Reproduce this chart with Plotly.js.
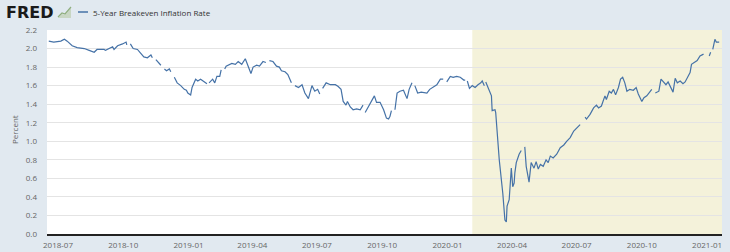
<!DOCTYPE html>
<html>
<head>
<meta charset="utf-8">
<script src="https://cdn.plot.ly/plotly-3.0.1.min.js"></script>
<style>html,body{margin:0;padding:0;background:#e1e9f0;}#chart{width:730px;height:252px;}</style>
</head>
<body>
<div id="chart"></div>
<script>
var seriesName = '5-Year Breakeven Inflation Rate';
var yAxisLabel = 'Percent';
var recessionStart = '2020-02-05';
var recessionEnd = '2021-01-22';
var xRange = ['2018-06-15 12:00', '2021-01-22'];
var yTicks = [0, 0.2, 0.4, 0.6, 0.8, 1.0, 1.2, 1.4, 1.6, 1.8, 2.0, 2.2];
var yTickLabels = ['0.0','0.2','0.4','0.6','0.8','1.0','1.2','1.4','1.6','1.8','2.0','2.2'];

var dates = [
'2018-06-18','2018-06-25','2018-07-05','2018-07-10','2018-07-14','2018-07-21','2018-07-28','2018-08-07','2018-08-14','2018-08-21',
'2018-08-25','2018-08-30','2018-09-04','2018-09-06','2018-09-11','2018-09-16','2018-09-18','2018-09-23','2018-09-30','2018-10-05',
'2018-10-06','2018-10-08','2018-10-11','2018-10-15','2018-10-21','2018-10-26','2018-10-30','2018-11-04','2018-11-09','2018-11-11',
'2018-11-12','2018-11-16','2018-11-20','2018-11-23','2018-11-25','2018-11-28','2018-12-01','2018-12-05','2018-12-07','2018-12-09',
'2018-12-12','2018-12-16','2018-12-21','2018-12-26','2018-12-29','2018-12-31','2019-01-04','2019-01-06','2019-01-11','2019-01-14',
'2019-01-18','2019-01-23','2019-01-27','2019-01-29','2019-01-30','2019-02-04','2019-02-07','2019-02-10','2019-02-14','2019-02-16',
'2019-02-19','2019-02-21','2019-02-23','2019-03-03','2019-03-08','2019-03-12','2019-03-17','2019-03-22','2019-03-26','2019-03-30',
'2019-04-02','2019-04-07','2019-04-11','2019-04-16','2019-04-20','2019-04-22','2019-04-25','2019-04-30','2019-05-05','2019-05-09',
'2019-05-12','2019-05-17','2019-05-21','2019-05-26','2019-05-28','2019-05-31','2019-06-05','2019-06-10','2019-06-14','2019-06-19',
'2019-06-24','2019-06-28','2019-07-02','2019-07-05','2019-07-07','2019-07-09','2019-07-14','2019-07-20','2019-07-27','2019-07-31',
'2019-08-04','2019-08-07','2019-08-11','2019-08-13','2019-08-17','2019-08-21','2019-08-26','2019-08-31','2019-09-04','2019-09-05',
'2019-09-07','2019-09-12','2019-09-16','2019-09-20','2019-09-23','2019-09-28','2019-10-03','2019-10-07','2019-10-10','2019-10-12',
'2019-10-14','2019-10-16','2019-10-19','2019-10-22','2019-10-26','2019-10-31','2019-11-05','2019-11-08','2019-11-12','2019-11-14',
'2019-11-16','2019-11-20','2019-11-25','2019-12-03','2019-12-07','2019-12-12','2019-12-17','2019-12-22','2019-12-26','2019-12-28',
'2019-12-31','2020-01-05','2020-01-09','2020-01-14','2020-01-19','2020-01-24','2020-01-26','2020-01-27','2020-01-29','2020-02-01',
'2020-02-05','2020-02-09','2020-02-13','2020-02-17','2020-02-19','2020-02-22','2020-02-23','2020-02-24','2020-02-27','2020-03-03',
'2020-03-04','2020-03-08','2020-03-09','2020-03-14','2020-03-19','2020-03-22','2020-03-24','2020-03-25','2020-03-28','2020-03-31',
'2020-04-02','2020-04-04','2020-04-05','2020-04-07','2020-04-11','2020-04-14','2020-04-16','2020-04-19','2020-04-21','2020-04-25',
'2020-04-28','2020-05-02','2020-05-05','2020-05-08','2020-05-11','2020-05-15','2020-05-19','2020-05-22','2020-05-25','2020-05-29',
'2020-06-03','2020-06-08','2020-06-13','2020-06-17','2020-06-22','2020-06-27','2020-07-01','2020-07-06','2020-07-08','2020-07-13',
'2020-07-15','2020-07-20','2020-07-25','2020-07-29','2020-08-01','2020-08-05','2020-08-10','2020-08-12','2020-08-16','2020-08-19',
'2020-08-22','2020-08-25','2020-08-29','2020-09-01','2020-09-04','2020-09-07','2020-09-10','2020-09-14','2020-09-19','2020-09-23',
'2020-09-26','2020-10-01','2020-10-04','2020-10-08','2020-10-13','2020-10-15','2020-10-17','2020-10-20','2020-10-25','2020-10-28',
'2020-11-01','2020-11-04','2020-11-07','2020-11-11','2020-11-14','2020-11-17','2020-11-20','2020-11-24','2020-11-28','2020-12-01',
'2020-12-04','2020-12-08','2020-12-10','2020-12-15','2020-12-18','2020-12-22','2020-12-27','2020-12-30','2021-01-04','2021-01-06',
'2021-01-08','2021-01-09','2021-01-12','2021-01-14','2021-01-18'
];

var rate = [
2.08,2.07,2.08,2.10,2.08,2.03,2.01,2.00,1.98,1.96,
1.99,1.99,1.99,1.98,2.00,2.02,1.99,2.03,2.05,2.07,
2.04,null,2.05,2.00,1.99,1.95,1.91,1.90,1.93,1.90,
null,1.88,1.85,1.82,null,1.78,1.76,1.78,1.75,null,
1.69,1.63,1.60,1.56,1.55,1.52,1.50,1.58,1.67,1.65,
1.67,1.64,1.62,null,1.63,1.67,1.63,1.70,1.70,1.77,
null,1.78,1.81,1.84,1.83,1.86,1.83,1.89,1.80,1.73,
1.80,1.82,1.81,1.86,1.85,null,1.87,1.86,1.81,1.80,
1.76,1.75,1.72,1.63,null,1.60,1.58,1.61,1.52,1.46,
1.60,1.54,1.56,1.51,null,1.57,1.63,1.61,1.61,1.59,
1.56,1.43,1.39,1.43,1.37,1.34,1.35,1.34,1.39,null,
1.31,1.38,1.45,1.49,1.42,1.42,1.34,1.25,1.24,1.27,
1.33,null,1.34,1.52,1.54,1.55,1.46,1.56,1.63,null,
1.60,1.52,1.53,1.52,1.56,1.59,1.61,1.67,1.67,null,
1.64,1.70,1.69,1.70,1.69,1.66,1.66,null,1.65,1.57,
1.60,1.58,1.61,1.63,1.65,1.60,null,1.64,1.58,1.49,
1.33,1.34,1.31,0.80,0.44,0.15,0.13,0.30,0.37,0.71,
0.51,0.55,0.66,0.77,0.86,0.90,null,0.94,0.73,0.56,
0.77,0.71,0.78,0.70,0.75,0.73,0.80,0.77,0.84,0.82,
0.86,0.93,0.96,1.00,1.04,1.11,1.14,1.18,null,1.26,
1.24,1.29,1.36,1.39,1.36,1.38,1.49,1.45,1.54,1.52,
1.56,1.50,1.58,1.67,1.69,1.63,1.54,1.56,1.55,1.58,
1.51,1.43,1.47,1.49,1.54,1.56,null,1.52,1.54,1.67,
1.63,1.61,1.64,1.58,1.53,1.68,1.63,1.65,1.62,1.64,
1.68,1.74,1.83,1.85,1.87,1.92,1.94,null,1.92,1.96,
null,1.99,2.10,2.07,2.07
];

// pixel helpers for header decorations (plot area: l=47, t=30, w=675, h=204)
function px(x){ return (x-47)/675; }
function py(y){ return (234-y)/204; }

var trace = {
  x: dates, y: rate, type: 'scatter', mode: 'lines', name: seriesName,
  connectgaps: false,
  line: {color: '#4572a7', width: 1.2}
};

var layout = {
  width: 730, height: 252,
  margin: {l: 47, r: 8, t: 30, b: 18, pad: 0},
  paper_bgcolor: '#e1e9f0',
  plot_bgcolor: '#ffffff',
  showlegend: false,
  font: {family: 'Open Sans, sans-serif', size: 8, color: '#666'},
  xaxis: {
    type: 'date', range: xRange,
    tick0: '2018-07-01', dtick: 'M3', tickformat: '%Y-%m',
    showgrid: false, zeroline: false,
    showline: true, linecolor: '#222', linewidth: 2,
    ticks: '', ticklabelstandoff: 2,
    tickfont: {family: 'Open Sans, sans-serif', size: 8, color: '#666'}
  },
  yaxis: {
    range: [0, 2.2], tickvals: yTicks, ticktext: yTickLabels,
    showgrid: true, gridcolor: '#e4e4e4', gridwidth: 1,
    zeroline: false, showline: false, ticks: '', ticklabelstandoff: 9,
    tickfont: {family: 'Open Sans, sans-serif', size: 8, color: '#666'}
  },
  shapes: [
    {type: 'rect', xref: 'x', yref: 'paper', x0: recessionStart, x1: recessionEnd, y0: 0, y1: 1,
     fillcolor: '#f4f2da', line: {width: 0}, layer: 'below'},
    {type: 'path', xref: 'paper', yref: 'paper',
     path: 'M '+px(58)+','+py(18)+' L '+px(62)+','+py(14)+' L '+px(65)+','+py(15)+' L '+px(71)+','+py(8)+' L '+px(71)+','+py(18)+' Z',
     fillcolor: 'rgba(190,205,175,0.7)', line: {width: 0}},
    {type: 'path', xref: 'paper', yref: 'paper',
     path: 'M '+px(58)+','+py(17)+' L '+px(62)+','+py(13)+' L '+px(65)+','+py(14)+' L '+px(71)+','+py(7),
     line: {color: '#8fae7e', width: 1.2}},
    {type: 'line', xref: 'paper', yref: 'paper', x0: px(78), x1: px(88), y0: py(12), y1: py(12),
     line: {color: '#4572a7', width: 1.5}}
  ],
  annotations: [
    {xref: 'paper', yref: 'paper', x: px(4), y: py(12.5), xanchor: 'left', yanchor: 'middle',
     text: '<b>FRED</b>', showarrow: false,
     font: {family: 'DejaVu Sans, sans-serif', size: 16, color: '#1a1a1a'}},
    {xref: 'paper', yref: 'paper', x: px(91), y: py(12), xanchor: 'left', yanchor: 'middle',
     text: seriesName, showarrow: false,
     font: {family: 'Open Sans, sans-serif', size: 8, color: '#333'}},
    {xref: 'paper', yref: 'paper', x: px(14), y: py(130), xanchor: 'center', yanchor: 'middle',
     text: yAxisLabel, textangle: -90, showarrow: false,
     font: {family: 'Open Sans, sans-serif', size: 8, color: '#666'}}
  ]
};

Plotly.newPlot('chart', [trace], layout, {displayModeBar: false, staticPlot: true});
</script>
</body>
</html>
